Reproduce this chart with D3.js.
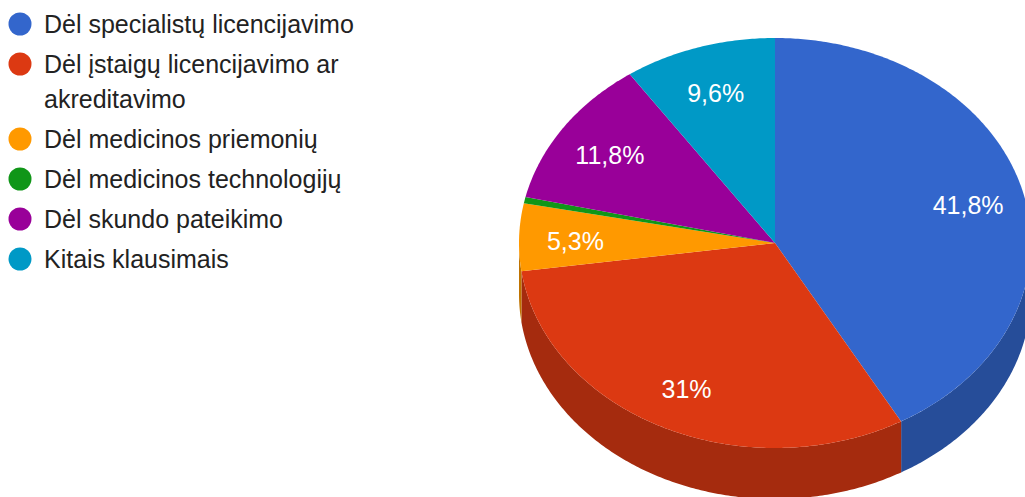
<!DOCTYPE html>
<html>
<head>
<meta charset="utf-8">
<script src="https://cdn.jsdelivr.net/npm/d3@7"></script>
<style>
  html, body { margin: 0; padding: 0; background: #fff; }
  svg { display: block; }
</style>
</head>
<body>
<svg id="chart" width="1025" height="497"></svg>
<script>
const categories = [
  "Dėl specialistų licencijavimo",
  "Dėl įstaigų licencijavimo ar akreditavimo",
  "Dėl medicinos priemonių",
  "Dėl medicinos technologijų",
  "Dėl skundo pateikimo",
  "Kitais klausimais"
];
const values = [41.8, 31, 5.3, 0.5, 11.8, 9.6];
const topColors = ["#3366cc", "#dc3912", "#ff9900", "#109618", "#990099", "#0099c6"];
const sideColors = ["#264d99", "#a52b0e", "#bf7300", "#0c7112", "#730073", "#007395"];

const W = 1025, H = 497;
const svg = d3.select("#chart");
const font = "Arial, 'Liberation Sans', sans-serif";

// pie geometry
const cx = 775, cy = 243, rx = 256, ry = 205, depth = 51;
const labelFrac = 0.78;

const pie = d3.pie().sort(null).value(d => d)
  .startAngle(0).endAngle(2 * Math.PI);
const arcs = pie(values);
const total = d3.sum(values);

const proj = (a, f = 1, dz = 0) => [cx + rx * f * Math.sin(a), cy - ry * f * Math.cos(a) + dz];

function arcPoints(a0, a1, dz) {
  const n = Math.max(2, Math.ceil(Math.abs(a1 - a0) / 0.01));
  return d3.range(n + 1).map(i => proj(a0 + (a1 - a0) * i / n, 1, dz));
}
const line = d3.line();

const g = svg.append("g");

// side walls (visible front half)
arcs.forEach((d, i) => {
  const s0 = Math.max(d.startAngle, Math.PI / 2);
  const s1 = Math.min(d.endAngle, 3 * Math.PI / 2);
  if (s1 <= s0) return;
  const pts = arcPoints(s0, s1, 0).concat(arcPoints(s1, s0, depth));
  g.append("path")
    .attr("d", line(pts) + "Z")
    .attr("fill", sideColors[i]);
});

// top faces
arcs.forEach((d, i) => {
  const pts = [[cx, cy]].concat(arcPoints(d.startAngle, d.endAngle, 0));
  g.append("path")
    .attr("d", line(pts) + "Z")
    .attr("fill", topColors[i]);
});

// slice labels
const fmt = v => {
  const p = Math.round(v / total * 1000) / 10;
  return String(p).replace(".", ",") + "%";
};
arcs.forEach((d, i) => {
  if (d.value / total < 0.01) return;
  const mid = (d.startAngle + d.endAngle) / 2;
  const [x, y] = proj(mid, labelFrac, 0);
  g.append("text")
    .attr("x", x).attr("y", y)
    .attr("dy", "0.45em")
    .attr("text-anchor", "middle")
    .attr("font-family", font)
    .attr("font-size", 25)
    .attr("fill", "#ffffff")
    .text(fmt(d.value));
});

// legend
const legend = svg.append("g");
const legendX = 20, textX = 44, maxW = 330, firstY = 24, itemGap = 40, lineGap = 35;
let yPos = firstY;
categories.forEach((c, i) => {
  legend.append("circle")
    .attr("cx", legendX).attr("cy", yPos).attr("r", 11.5)
    .attr("fill", topColors[i]);
  const t = legend.append("text")
    .attr("x", textX).attr("y", yPos)
    .attr("dy", "0.36em")
    .attr("font-family", font)
    .attr("font-size", 25)
    .attr("fill", "#222222");
  // wrap words
  const words = c.split(" ");
  let lines = [], cur = [];
  const meas = legend.append("text").attr("font-family", font).attr("font-size", 25).attr("visibility", "hidden");
  words.forEach(w => {
    const trial = cur.concat([w]).join(" ");
    meas.text(trial);
    if (meas.node().getComputedTextLength() > maxW && cur.length) {
      lines.push(cur.join(" "));
      cur = [w];
    } else cur.push(w);
  });
  lines.push(cur.join(" "));
  meas.remove();
  lines.forEach((l, k) => {
    t.append("tspan").attr("x", textX).attr("dy", k === 0 ? "0.36em" : lineGap).text(l);
  });
  t.attr("dy", null);
  yPos += itemGap + (lines.length - 1) * lineGap;
});
</script>
</body>
</html>
